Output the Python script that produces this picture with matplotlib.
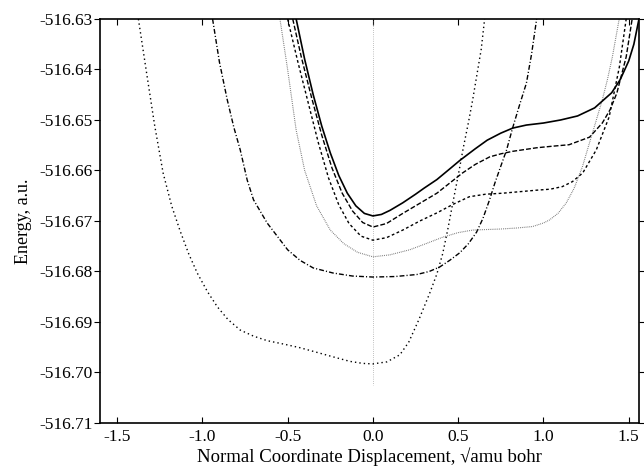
import matplotlib
matplotlib.use("Agg")
import matplotlib.pyplot as plt

# curve 1 (solid)
x1 = [-0.45, -0.40, -0.35, -0.30, -0.25, -0.20, -0.15, -0.10, -0.05, 0.00,
      0.05, 0.10, 0.175, 0.25, 0.30, 0.375, 0.45, 0.51, 0.60, 0.67, 0.75, 0.82,
      0.90, 1.00, 1.10, 1.20, 1.30, 1.40, 1.45, 1.50, 1.53, 1.56]
y1 = [-516.6300, -516.6380, -516.6450, -516.6512, -516.6565, -516.6610, -516.6645,
      -516.6670, -516.6685, -516.6690, -516.6687, -516.6679, -516.6664, -516.6647,
      -516.6635, -516.6618, -516.6597, -516.6580, -516.6557, -516.6540, -516.6526,
      -516.6516, -516.6510, -516.6506, -516.6500, -516.6492, -516.6476, -516.6446,
      -516.6420, -516.6383, -516.6350, -516.6300]

# curve 2 (dashed)
x2 = [-0.47, -0.42, -0.36, -0.30, -0.24, -0.18, -0.12, -0.06, 0.00, 0.08, 0.175,
      0.275, 0.375, 0.45, 0.525, 0.60, 0.685, 0.75, 0.82, 0.96, 1.05, 1.15, 1.27,
      1.345, 1.39, 1.43, 1.485, 1.52]
y2 = [-516.6300, -516.6375, -516.6455, -516.6530, -516.6595, -516.6645, -516.6680,
      -516.6703, -516.6712, -516.6705, -516.6685, -516.6665, -516.6645, -516.6625,
      -516.6605, -516.6588, -516.6573, -516.6567, -516.6562, -516.6555, -516.6552,
      -516.6549, -516.6534, -516.6506, -516.6480, -516.6447, -516.6375, -516.6300]

# curve 3 (short dash)
x3 = [-0.50, -0.44, -0.38, -0.32, -0.26, -0.20, -0.14, -0.07, 0.00, 0.08, 0.175,
      0.275, 0.375, 0.47, 0.565, 0.66, 0.76, 0.86, 0.96, 1.04, 1.11, 1.17, 1.23,
      1.31, 1.385, 1.445, 1.485]
y3 = [-516.6300, -516.6385, -516.6465, -516.6545, -516.6615, -516.6668, -516.6705,
      -516.6730, -516.6738, -516.6733, -516.6718, -516.6700, -516.6684, -516.6667,
      -516.6652, -516.6647, -516.6645, -516.6642, -516.6639, -516.6637, -516.6632,
      -516.6622, -516.6605, -516.6559, -516.6494, -516.6395, -516.6300]

# curve 4 (fine dots)
x4 = [-0.545, -0.50, -0.45, -0.40, -0.33, -0.25, -0.17, -0.09, 0.00, 0.10, 0.216,
      0.31, 0.41, 0.50, 0.585, 0.66, 0.743, 0.84, 0.936, 1.00, 1.035, 1.085, 1.134,
      1.18, 1.228, 1.27, 1.31, 1.345, 1.375, 1.404, 1.444]
y4 = [-516.6300, -516.6400, -516.6520, -516.6600, -516.6670, -516.6718, -516.6745,
      -516.6762, -516.6771, -516.6767, -516.6757, -516.6745, -516.6732, -516.6723,
      -516.6718, -516.6717, -516.6716, -516.6714, -516.6711, -516.6704, -516.6698,
      -516.6685, -516.6664, -516.6635, -516.6593, -516.6545, -516.6500, -516.6460,
      -516.6420, -516.6375, -516.6300]

# curve 5 (dash-dot)
x5 = [-0.94, -0.90, -0.854, -0.815, -0.778, -0.737, -0.70, -0.62, -0.50, -0.427,
      -0.35, -0.234, -0.12, 0.00, 0.13, 0.257, 0.33, 0.392, 0.45, 0.509, 0.56,
      0.608, 0.645, 0.684, 0.715, 0.743, 0.784, 0.819, 0.86, 0.90, 0.93, 0.96]
y5 = [-516.6300, -516.6385, -516.6460, -516.6515, -516.6559, -516.6619, -516.6658,
      -516.6704, -516.6757, -516.6778, -516.6793, -516.6803, -516.6809, -516.6811,
      -516.6810, -516.6806, -516.6800, -516.6791, -516.6778, -516.6763, -516.6745,
      -516.6722, -516.6695, -516.6658, -516.6625, -516.6598, -516.6559, -516.6516,
      -516.6470, -516.6427, -516.6370, -516.6300]

# curve 6 (deep, dotted)
x6 = [-1.375, -1.33, -1.28, -1.23, -1.18, -1.13, -1.08, -1.03, -0.97, -0.912,
      -0.85, -0.778, -0.70, -0.62, -0.52, -0.427, -0.33, -0.234, -0.135, -0.06,
      0.00, 0.082, 0.158, 0.21, 0.27, 0.333, 0.375, 0.409, 0.44, 0.468, 0.50,
      0.53, 0.56, 0.585, 0.61, 0.635, 0.655]
y6 = [-516.6300, -516.6400, -516.6510, -516.6605, -516.6670, -516.6720, -516.6765,
      -516.6803, -516.6840, -516.6870, -516.6895, -516.6916, -516.6928, -516.6937,
      -516.6944, -516.6951, -516.6960, -516.6969, -516.6978, -516.6982, -516.6983,
      -516.6979, -516.6965, -516.6940, -516.6895, -516.6843, -516.6805, -516.6765,
      -516.6715, -516.6665, -516.6610, -516.6555, -516.6505, -516.6460, -516.6410,
      -516.6360, -516.6300]

yticks = [-516.63, -516.64, -516.65, -516.66, -516.67, -516.68, -516.69, -516.70, -516.71]
xticks = [-1.5, -1.0, -0.5, 0.0, 0.5, 1.0, 1.5]

plt.rcParams['font.family'] = ['Liberation Serif', 'DejaVu Serif']

fig = plt.figure(figsize=(6.44, 4.68), dpi=100)
ax = fig.add_axes([0.1553, 0.0962, 0.8369, 0.8632])

ax.plot([0, 0], [-516.63, -516.7025], color='#999999', lw=0.7, ls=(0, (0.6, 1.6)))
ax.plot(x6, y6, color='black', lw=1.0, ls=(0, (1.0, 2.2)))
ax.plot(x5, y5, color='black', lw=1.0, ls=(0, (3.5, 1.5, 0.8, 1.5)))
ax.plot(x4, y4, color='#666666', lw=0.8, ls=(0, (0.7, 1.0)))
ax.plot(x3, y3, color='black', lw=1.0, ls=(0, (2.0, 1.8)))
ax.plot(x2, y2, color='black', lw=1.0, ls=(0, (3.5, 1.5)))
ax.plot(x1, y1, color='black', lw=1.2)

ax.set_xlim(-1.6, 1.56)
ax.set_ylim(-516.71, -516.63)
ax.set_xticks(xticks)
ax.set_xticklabels(['%.1f' % v for v in xticks])
ax.set_yticks(yticks)
ax.set_yticklabels(['%.2f' % v for v in yticks])

ax.tick_params(axis='x', direction='in', top=True, length=4, labelsize=12.5, pad=4)
ax.tick_params(axis='y', direction='out', right=True, length=4, labelsize=12.5, pad=1.5)
for s in ax.spines.values():
    s.set_linewidth(1.2)

ax.set_xlabel('Normal Coordinate Displacement, \u221aamu bohr', fontsize=13.5, labelpad=2)
ax.set_ylabel('Energy, a.u.', fontsize=13, labelpad=5)

fig.savefig('out.png', dpi=100)
